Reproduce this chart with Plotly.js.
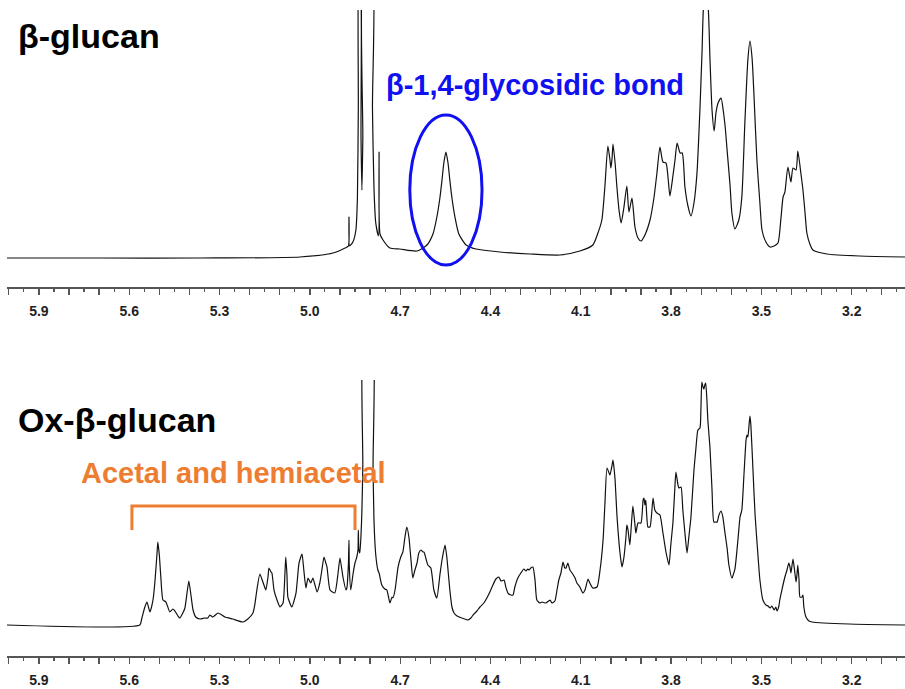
<!DOCTYPE html>
<html>
<head>
<meta charset="utf-8">
<script src="https://cdn.plot.ly/plotly-3.0.1.min.js"></script>
<style>html,body{margin:0;padding:0;background:#fff;}#chart{width:905px;height:689px;}</style>
</head>
<body>
<div id="chart"></div>
<script>
// ---------- data (chemical shift in ppm, intensity in arbitrary units) ----------
const topPpm = [6.006,5.697,5.365,5.033,4.923,4.883,4.872,4.870,4.868,4.857,4.847,4.842,4.839,4.836,4.833,4.830,4.827,4.824,4.819,4.795,4.792,4.787,4.781,4.772,4.770,4.767,4.757,4.734,4.701,4.644,4.611,4.591,4.578,4.568,4.561,4.555,4.548,4.541,4.535,4.528,4.518,4.505,4.481,4.448,4.369,4.269,4.169,4.103,4.060,4.043,4.030,4.020,4.010,4.003,4.000,3.996,3.993,3.986,3.980,3.973,3.966,3.957,3.947,3.940,3.930,3.920,3.910,3.900,3.887,3.870,3.857,3.847,3.837,3.827,3.817,3.810,3.804,3.794,3.787,3.780,3.770,3.763,3.754,3.744,3.734,3.724,3.714,3.704,3.697,3.691,3.684,3.678,3.671,3.664,3.657,3.651,3.644,3.634,3.627,3.620,3.614,3.604,3.598,3.588,3.575,3.565,3.555,3.545,3.538,3.531,3.525,3.515,3.505,3.498,3.485,3.471,3.458,3.445,3.435,3.428,3.422,3.412,3.402,3.395,3.385,3.379,3.369,3.362,3.355,3.349,3.339,3.329,3.282,3.173,3.023];
const topInt = [0,0,0,1,5,10,12,41,12,16,28,60,150,300,300,120,68,120,300,300,150,70,35,22,106,24,18,10,9,7,13,24,41,60,78,95,106,95,78,60,41,24,13,9,6,4,3,7,13,25,38,71,112,98,90,100,114,95,71,48,35,50,72,46,60,31,20,17,23,38,60,85,111,96,95,80,62,82,98,115,105,105,71,52,42,55,85,150,208,255,260,255,200,148,127,145,155,160,148,130,108,72,45,29,38,61,135,198,217,200,165,98,55,28,16,11,12,15,40,61,66,91,76,90,88,107,85,68,45,25,14,8,4,2,1];

const botPpm = [6.006,5.565,5.558,5.548,5.541,5.531,5.521,5.515,5.508,5.505,5.500,5.495,5.488,5.478,5.465,5.455,5.448,5.438,5.432,5.422,5.415,5.408,5.402,5.395,5.388,5.379,5.365,5.349,5.339,5.332,5.322,5.305,5.292,5.282,5.256,5.222,5.206,5.189,5.183,5.176,5.166,5.156,5.149,5.146,5.139,5.136,5.129,5.126,5.119,5.109,5.099,5.089,5.083,5.080,5.076,5.073,5.060,5.046,5.036,5.026,5.020,5.013,5.006,4.997,4.990,4.983,4.976,4.967,4.960,4.953,4.947,4.943,4.933,4.917,4.907,4.900,4.890,4.880,4.877,4.872,4.870,4.869,4.864,4.857,4.850,4.844,4.840,4.839,4.837,4.834,4.830,4.827,4.824,4.820,4.793,4.790,4.787,4.781,4.774,4.770,4.761,4.751,4.744,4.734,4.727,4.724,4.717,4.707,4.698,4.691,4.684,4.678,4.671,4.664,4.658,4.651,4.644,4.638,4.631,4.624,4.621,4.614,4.608,4.598,4.588,4.578,4.568,4.561,4.551,4.545,4.541,4.535,4.528,4.521,4.511,4.495,4.475,4.465,4.458,4.445,4.435,4.422,4.412,4.402,4.392,4.382,4.372,4.365,4.355,4.349,4.342,4.332,4.325,4.319,4.309,4.299,4.289,4.282,4.276,4.272,4.266,4.259,4.252,4.246,4.236,4.229,4.216,4.202,4.196,4.186,4.179,4.173,4.166,4.159,4.153,4.149,4.143,4.136,4.129,4.119,4.113,4.103,4.093,4.086,4.076,4.070,4.060,4.046,4.036,4.026,4.020,4.013,4.006,4.003,3.996,3.993,3.990,3.986,3.980,3.973,3.966,3.963,3.957,3.950,3.947,3.943,3.937,3.932,3.927,3.920,3.917,3.910,3.900,3.893,3.890,3.887,3.884,3.877,3.870,3.865,3.860,3.854,3.847,3.837,3.827,3.817,3.807,3.801,3.794,3.787,3.784,3.777,3.774,3.767,3.761,3.754,3.747,3.741,3.734,3.724,3.718,3.711,3.704,3.701,3.698,3.694,3.691,3.688,3.685,3.681,3.678,3.671,3.664,3.658,3.651,3.647,3.641,3.634,3.628,3.621,3.614,3.608,3.598,3.588,3.578,3.571,3.565,3.558,3.551,3.548,3.545,3.541,3.538,3.535,3.528,3.521,3.511,3.505,3.495,3.485,3.478,3.471,3.465,3.458,3.452,3.448,3.442,3.439,3.432,3.422,3.415,3.409,3.405,3.402,3.399,3.395,3.390,3.385,3.382,3.379,3.375,3.372,3.365,3.362,3.359,3.352,3.342,3.332,3.209,3.023];
const botInt = [0,0,7,18,23,13,25,42,70,83,70,48,25,23,13,16,14,9,7,12,17,32,44,30,15,8,6,7,7,10,8,12,10,8,6,3,6,12,20,35,51,43,37,35,48,57,53,52,35,25,18,22,50,68,50,28,18,32,62,71,55,37,47,42,47,40,33,42,55,68,62,58,35,32,50,67,48,35,37,60,85,60,35,50,62,68,75,95,75,72,90,115,160,300,300,160,105,70,55,52,40,36,35,22,28,27,35,58,68,73,88,98,88,65,47,55,62,72,75,73,73,66,60,57,35,27,50,65,80,68,55,35,18,12,9,7,5,7,10,14,18,22,27,33,40,46,48,44,45,38,32,30,30,38,47,52,56,54,56,55,57,58,45,25,22,23,22,25,22,24,35,45,52,63,57,57,62,55,52,47,42,38,32,35,46,42,37,38,55,85,120,157,152,150,160,165,158,145,110,82,63,58,67,88,100,95,80,100,119,100,92,102,102,125,127,120,125,98,98,110,127,115,112,110,92,73,60,80,102,140,153,140,137,138,115,92,72,88,108,155,175,195,197,215,243,238,236,240,242,225,205,178,135,103,103,103,110,114,108,92,77,60,47,56,85,108,115,150,185,190,188,200,209,200,155,110,68,45,25,20,19,17,19,15,18,14,19,25,35,48,55,62,58,52,58,66,55,43,50,60,45,28,28,30,18,8,4,3,1,0];

// tick positions / labels
const majorTicks = [6.0,5.9,5.8,5.7,5.6,5.5,5.4,5.3,5.2,5.1,5.0,4.9,4.8,4.7,4.6,4.5,4.4,4.3,4.2,4.1,4.0,3.9,3.8,3.7,3.6,3.5,3.4,3.3,3.2,3.1];
const majorLabels = ["","5.9","","","5.6","","","5.3","","","5.0","","","4.7","","","4.4","","","4.1","","","3.8","","","3.5","","","3.2",""];
const minorTicks = [5.95,5.85,5.75,5.65,5.55,5.45,5.35,5.25,5.15,5.05,4.95,4.85,4.75,4.65,4.55,4.45,4.35,4.25,4.15,4.05,3.95,3.85,3.75,3.65,3.55,3.45,3.35,3.25,3.15,3.05];

// labels
const sampleNames = ["β-glucan", "Ox-β-glucan"];
const noteBond = "β-1,4-glycosidic bond";
const noteAcetal = "Acetal and hemiacetal";

const FONT = "Liberation Sans, Arial, Helvetica, sans-serif";
const lineCol = "#111111";
const axCol = "#555555";

function xax(anchor) {
  return {
    anchor: anchor, domain: [0, 1], range: [6.006, 3.023],
    showline: true, linecolor: axCol, linewidth: 1.5,
    ticks: "outside", ticklen: 6, tickwidth: 1.3, tickcolor: axCol,
    tickmode: "array", tickvals: majorTicks, ticktext: majorLabels,
    ticklabelstandoff: 5,
    minor: {ticks: "outside", ticklen: 3.5, tickwidth: 1.2, tickcolor: axCol, tickmode: "array", tickvals: minorTicks},
    showgrid: false, zeroline: false, fixedrange: true,
    tickfont: {family: FONT, size: 14, color: "#222", weight: "bold"}
  };
}
function yax(domain, range) {
  return {domain: domain, range: range, visible: false, showgrid: false, zeroline: false, fixedrange: true};
}

const traces = [
  {x: topPpm, y: topInt, xaxis: "x", yaxis: "y", type: "scatter", mode: "lines",
   line: {color: lineCol, width: 1.2, shape: "spline", smoothing: 0.6}, hoverinfo: "skip"},
  {x: botPpm, y: botInt, xaxis: "x2", yaxis: "y2", type: "scatter", mode: "lines",
   line: {color: lineCol, width: 1.2, shape: "spline", smoothing: 0.5}, hoverinfo: "skip"}
];

const layout = {
  width: 905, height: 689,
  margin: {l: 7, r: 0, t: 10, b: 33},
  paper_bgcolor: "#fff", plot_bgcolor: "#fff",
  showlegend: false,
  xaxis: xax("y"),
  yaxis: yax([0.5712, 1], [-29, 248]),
  xaxis2: xax("y2"),
  yaxis2: yax([0, 0.4272], [-31, 245]),
  shapes: [
    {type: "circle", xref: "x", yref: "y", x0: 4.668, x1: 4.428, y0: -7, y1: 143,
     line: {color: "#1010F0", width: 3}},
    {type: "path", xref: "x2", yref: "y2",
     path: "M5.591,95 L5.591,119 L4.850,119 L4.850,95",
     line: {color: "#ED7D31", width: 3}}
  ],
  annotations: [
    {xref: "paper", yref: "paper", x: 0.0100, y: 0.9605, xanchor: "left", yanchor: "middle", showarrow: false,
     text: "<b>" + sampleNames[0] + "</b>", font: {family: FONT, size: 34, color: "#000"}},
    {xref: "paper", yref: "paper", x: 0.0100, y: 0.365, xanchor: "left", yanchor: "middle", showarrow: false,
     text: "<b>" + sampleNames[1] + "</b>", font: {family: FONT, size: 34, color: "#000"}},
    {xref: "paper", yref: "paper", x: 0.4200, y: 0.884, xanchor: "left", yanchor: "middle", showarrow: false,
     text: "<b>" + noteBond + "</b>", font: {family: FONT, size: 29, color: "#1010F0"}},
    {xref: "paper", yref: "paper", x: 0.0800, y: 0.284, xanchor: "left", yanchor: "middle", showarrow: false,
     text: "<b>" + noteAcetal + "</b>", font: {family: FONT, size: 29, color: "#ED7D31"}}
  ]
};

Plotly.newPlot("chart", traces, layout, {displayModeBar: false, staticPlot: true});
</script>
</body>
</html>
